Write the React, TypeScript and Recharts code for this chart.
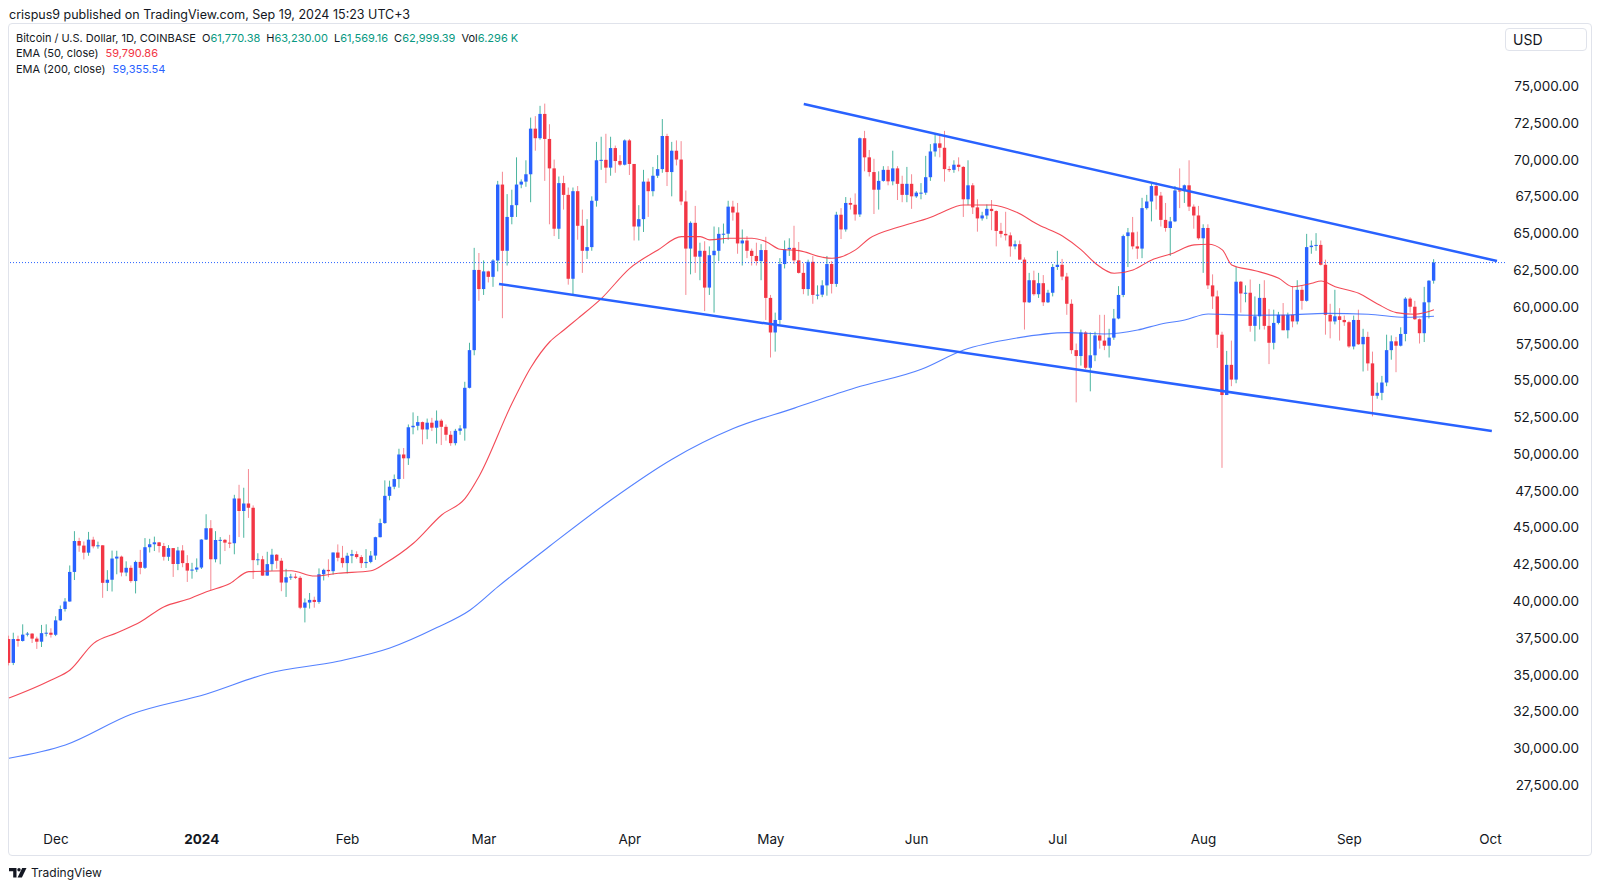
import React from 'react';
import { ComposedChart, Bar, Line, XAxis, YAxis, ReferenceLine } from 'recharts';

// ---------- DATA (prices in thousands USD, [open, high, low, close]) ----------
const nov2023 = [
  [37.42, 37.65, 35.63, 35.8], [35.8, 37.85, 35.65, 37.42], [37.42, 37.65, 36.9, 37.29], [37.29, 38.42, 37.25, 37.72],
  [37.72, 37.9, 37.6, 37.79], [37.79, 37.82, 37.15, 37.45], [37.45, 37.58, 36.75, 37.24], [37.24, 38.38, 36.88, 37.82],
  [37.82, 38.42, 37.6, 37.85], [37.85, 38.15, 37.52, 37.71],
];
const dec2023 = [
  [37.71, 38.97, 37.62, 38.69], [38.69, 39.7, 38.65, 39.46], [39.46, 40.2, 39.29, 39.97], [39.97, 42.42, 39.96, 41.98],
  [41.98, 44.75, 41.43, 44.08], [44.08, 44.3, 43.35, 43.77], [43.77, 44.05, 42.83, 43.29], [43.29, 44.7, 43.08, 44.17],
  [44.17, 44.37, 43.58, 43.72], [43.72, 44.04, 43.56, 43.79], [43.79, 43.8, 40.22, 41.24], [41.24, 42.1, 40.68, 41.45],
  [41.45, 43.43, 40.65, 42.89], [42.89, 43.42, 41.82, 43.02], [43.02, 43.09, 41.68, 41.94], [41.94, 42.7, 41.69, 42.26],
  [42.26, 42.42, 41.25, 41.36], [41.36, 42.75, 40.52, 42.66], [42.66, 43.48, 41.82, 42.26], [42.26, 44.28, 42.18, 43.66],
  [43.66, 44.23, 43.3, 43.86], [43.86, 44.38, 43.4, 43.99], [43.99, 44.02, 43.3, 43.74], [43.74, 43.95, 42.75, 43.01],
  [43.01, 43.8, 42.73, 43.6], [43.6, 43.6, 41.64, 42.52], [42.52, 43.68, 42.1, 43.44], [43.44, 43.8, 42.3, 42.58],
  [42.58, 43.12, 41.3, 42.07], [42.07, 42.6, 41.52, 42.14], [42.14, 42.9, 41.97, 42.28],
];
const jan2024 = [
  [42.28, 44.2, 42.18, 44.18], [44.18, 45.9, 44.15, 44.95], [44.95, 45.5, 40.75, 42.84], [42.84, 44.75, 42.63, 44.15],
  [44.15, 44.35, 42.5, 44.16], [44.16, 44.22, 43.4, 43.97], [43.97, 44.5, 43.6, 43.93], [43.93, 47.22, 43.18, 46.97],
  [46.97, 47.9, 44.35, 46.12], [46.12, 47.7, 44.3, 46.63], [46.63, 48.97, 45.65, 46.34], [46.34, 46.5, 41.5, 42.78],
  [42.78, 43.25, 42.44, 42.84], [42.84, 43.07, 41.72, 41.73], [41.73, 43.35, 41.72, 42.51], [42.51, 43.55, 42.05, 43.15],
  [43.15, 43.2, 42.2, 42.74], [42.74, 42.93, 40.67, 41.26], [41.26, 42.19, 40.28, 41.62], [41.62, 41.85, 41.44, 41.66],
  [41.66, 41.88, 41.5, 41.58], [41.58, 41.7, 39.45, 39.55], [39.55, 40.18, 38.55, 39.9], [39.9, 40.55, 39.49, 40.08],
  [40.08, 40.3, 39.55, 39.94], [39.94, 42.22, 39.82, 41.82], [41.82, 42.2, 41.4, 42.12], [42.12, 42.84, 41.62, 42.03],
  [42.03, 43.3, 41.8, 43.3], [43.3, 43.85, 42.7, 42.94], [42.94, 43.75, 42.28, 42.58],
];
const feb2024 = [
  [42.58, 43.28, 41.88, 43.08], [43.08, 43.48, 42.57, 43.19], [43.19, 43.38, 42.88, 42.99], [42.99, 43.12, 42.25, 42.58],
  [42.58, 43.53, 42.25, 42.66], [42.66, 43.4, 42.57, 43.09], [43.09, 44.37, 42.8, 44.34], [44.34, 45.6, 44.33, 45.3],
  [45.3, 48.2, 45.25, 47.15], [47.15, 48.18, 46.85, 47.77], [47.77, 48.6, 47.6, 48.29], [48.29, 50.35, 47.7, 49.96],
  [49.96, 50.4, 48.3, 49.7], [49.7, 52.0, 49.25, 51.81], [51.81, 52.82, 51.33, 51.91], [51.91, 52.58, 51.6, 52.16],
  [52.16, 52.2, 50.65, 51.66], [51.66, 52.4, 51.0, 52.12], [52.12, 52.45, 51.55, 51.78], [51.78, 52.95, 50.7, 52.26],
  [52.26, 52.38, 50.6, 51.84], [51.84, 52.0, 50.9, 51.3], [51.3, 51.55, 50.55, 50.73], [50.73, 51.7, 50.58, 51.57],
  [51.57, 51.95, 51.3, 51.73], [51.73, 54.9, 50.9, 54.49], [54.49, 57.55, 54.45, 57.05], [57.05, 64.0, 56.7, 62.5],
  [62.5, 63.65, 60.4, 61.2],
];
const mar2024 = [
  [61.2, 63.15, 60.8, 62.4], [62.4, 62.45, 61.65, 62.03], [62.03, 63.23, 61.35, 63.14], [63.14, 68.55, 62.4, 68.3],
  [68.3, 69.17, 59.22, 63.8], [63.8, 67.65, 62.8, 66.1], [66.1, 67.95, 65.6, 66.9], [66.9, 70.15, 66.1, 68.3],
  [68.3, 68.65, 68.05, 68.5], [68.5, 69.95, 68.15, 69.0], [69.0, 72.85, 67.1, 72.1], [72.1, 72.95, 70.6, 71.45],
  [71.45, 73.65, 71.35, 73.1], [73.1, 73.8, 68.55, 71.4], [71.4, 72.4, 65.6, 69.4], [69.4, 70.0, 64.8, 65.3],
  [65.3, 68.85, 64.6, 68.4], [68.4, 68.9, 66.6, 67.6], [67.6, 68.1, 61.5, 61.9], [61.9, 68.1, 60.8, 67.85],
  [67.85, 68.2, 64.55, 65.5], [65.5, 66.6, 62.3, 63.8], [63.8, 65.95, 63.25, 64.05], [64.05, 67.5, 63.8, 67.2],
  [67.2, 71.2, 66.8, 69.95], [69.95, 71.55, 69.3, 69.98], [69.98, 71.75, 68.4, 69.45], [69.45, 71.55, 68.9, 70.78],
  [70.78, 70.95, 69.1, 69.9], [69.9, 70.3, 69.55, 69.65], [69.65, 71.37, 69.6, 71.3],
];
const apr2024 = [
  [71.3, 71.4, 68.95, 69.7], [69.7, 69.7, 64.5, 65.45], [65.45, 66.9, 64.5, 65.95], [65.95, 69.3, 65.08, 68.5],
  [68.5, 68.72, 66.1, 67.85], [67.85, 69.5, 67.5, 68.9], [68.9, 70.3, 68.75, 69.35], [69.35, 72.75, 69.1, 71.6],
  [71.6, 71.75, 68.2, 69.15], [69.15, 71.2, 67.5, 70.6], [70.6, 71.3, 69.6, 70.0], [70.0, 71.25, 66.9, 67.15],
  [67.15, 67.9, 60.8, 63.95], [63.95, 65.8, 62.2, 65.7], [65.7, 66.85, 62.3, 63.4], [63.4, 64.35, 61.8, 63.8],
  [63.8, 64.45, 59.7, 61.3], [61.3, 64.1, 60.8, 63.5], [63.5, 65.45, 59.6, 63.8], [63.8, 65.4, 63.1, 64.95],
  [64.95, 65.65, 64.3, 64.96], [64.96, 67.2, 64.55, 66.8], [66.8, 67.2, 65.85, 66.4], [66.4, 67.05, 63.6, 64.3],
  [64.3, 65.25, 62.8, 64.5], [64.5, 64.8, 63.3, 63.8], [63.8, 63.95, 62.8, 63.45], [63.45, 64.35, 62.8, 63.1],
  [63.1, 64.25, 61.8, 63.85], [63.85, 64.75, 59.1, 60.6],
];
const may2024 = [
  [60.6, 60.8, 56.55, 58.25], [58.25, 59.6, 56.95, 59.1], [59.1, 63.3, 58.8, 62.9], [62.9, 64.5, 62.6, 63.9],
  [63.9, 64.65, 63.45, 64.0], [64.0, 65.5, 62.9, 63.15], [63.15, 64.4, 62.25, 62.3], [62.3, 62.95, 60.85, 61.2],
  [61.2, 63.2, 60.75, 63.05], [63.05, 63.45, 60.2, 60.8], [60.8, 61.45, 60.5, 60.82], [60.82, 61.8, 60.65, 61.45],
  [61.45, 63.45, 60.75, 62.9], [62.9, 63.1, 60.9, 61.55], [61.55, 66.45, 61.35, 66.25], [66.25, 66.7, 64.6, 65.25],
  [65.25, 67.45, 65.1, 67.05], [67.05, 67.4, 66.6, 66.93], [66.93, 67.7, 65.85, 66.27], [66.27, 71.5, 66.1, 71.45],
  [71.45, 71.95, 69.2, 70.15], [70.15, 70.65, 68.85, 69.15], [69.15, 70.05, 66.3, 67.95], [67.95, 69.2, 66.6, 68.55],
  [68.55, 69.55, 68.5, 69.3], [69.3, 69.55, 68.25, 68.52], [68.52, 70.6, 68.25, 69.4], [69.4, 69.55, 67.25, 68.35],
  [68.35, 68.9, 67.1, 67.6], [67.6, 69.5, 67.1, 68.35], [68.35, 69.0, 66.65, 67.5],
];
const jun2024 = [
  [67.5, 67.85, 67.4, 67.75], [67.75, 68.4, 67.3, 67.75], [67.75, 70.25, 67.6, 68.8], [68.8, 71.05, 68.55, 70.55],
  [70.55, 71.75, 70.2, 71.1], [71.1, 71.65, 70.15, 70.8], [70.8, 71.95, 68.5, 69.35], [69.35, 69.55, 69.15, 69.3],
  [69.3, 69.95, 69.1, 69.65], [69.65, 70.15, 69.2, 69.5], [69.5, 69.55, 66.1, 67.3], [67.3, 69.95, 66.9, 68.25],
  [68.25, 68.4, 66.3, 66.75], [66.75, 67.3, 65.1, 66.0], [66.0, 66.45, 65.85, 66.2], [66.2, 66.95, 65.95, 66.65],
  [66.65, 67.25, 65.2, 66.5], [66.5, 66.55, 64.1, 65.15], [65.15, 65.7, 64.7, 64.95], [64.95, 66.45, 64.5, 64.85],
  [64.85, 65.05, 63.4, 64.1], [64.1, 64.5, 63.9, 64.25], [64.25, 64.5, 63.2, 63.2], [63.2, 63.35, 58.45, 60.3],
  [60.3, 62.3, 60.25, 61.8], [61.8, 62.45, 60.75, 60.85], [60.85, 62.3, 60.6, 61.6], [61.6, 62.15, 60.05, 60.3],
  [60.3, 61.15, 60.25, 60.95], [60.95, 62.9, 60.7, 62.7],
];
const jul2024 = [
  [62.7, 63.8, 62.5, 62.85], [62.85, 63.25, 61.8, 62.05], [62.05, 62.3, 59.45, 60.2], [60.2, 60.5, 56.8, 57.05],
  [57.05, 57.5, 53.5, 56.65], [56.65, 58.45, 56.0, 58.25], [58.25, 58.35, 55.75, 55.85], [55.85, 58.25, 54.25, 56.7],
  [56.7, 58.3, 56.3, 58.05], [58.05, 59.45, 57.15, 57.7], [57.7, 59.45, 57.05, 57.35], [57.35, 58.5, 56.55, 57.9],
  [57.9, 59.85, 57.75, 59.2], [59.2, 61.4, 59.15, 60.8], [60.8, 64.9, 60.65, 64.8], [64.8, 65.35, 62.7, 65.05],
  [65.05, 66.1, 63.9, 64.1], [64.1, 65.1, 63.25, 63.95], [63.95, 67.4, 63.3, 66.7], [66.7, 67.6, 66.6, 67.15],
  [67.15, 68.35, 65.8, 68.2], [68.2, 68.45, 66.6, 67.55], [67.55, 67.8, 65.45, 65.9], [65.9, 67.05, 65.1, 65.35],
  [65.35, 66.1, 63.45, 65.8], [65.8, 68.2, 65.75, 67.9], [67.9, 69.4, 66.7, 67.85], [67.85, 68.3, 67.05, 68.25],
  [68.25, 69.95, 66.5, 66.8], [66.8, 66.95, 65.3, 66.2], [66.2, 66.85, 64.55, 64.65],
];
const aug2024 = [
  [64.65, 65.6, 62.3, 65.35], [65.35, 65.6, 61.2, 61.45], [61.45, 62.2, 59.85, 60.7], [60.7, 61.1, 57.2, 58.1],
  [58.1, 58.3, 49.05, 54.0], [54.0, 57.0, 54.0, 56.05], [56.05, 57.7, 54.6, 55.05], [55.05, 62.7, 54.8, 61.7],
  [61.7, 61.75, 59.6, 60.9], [60.9, 61.45, 60.3, 60.95], [60.95, 61.85, 58.3, 58.7], [58.7, 60.7, 57.65, 59.35],
  [59.35, 61.55, 58.45, 60.6], [60.6, 61.8, 58.45, 58.7], [58.7, 59.85, 56.1, 57.55], [57.55, 59.8, 57.1, 58.9],
  [58.9, 59.65, 58.8, 59.45], [59.45, 60.25, 58.4, 58.4], [58.4, 59.6, 57.85, 59.45], [59.45, 61.4, 58.6, 59.0],
  [59.0, 61.8, 58.8, 61.15], [61.15, 61.4, 59.8, 60.4], [60.4, 64.95, 60.35, 64.05], [64.05, 64.5, 63.6, 64.15],
  [64.15, 65.0, 63.8, 64.2], [64.2, 64.5, 62.8, 62.85], [62.85, 63.2, 58.1, 59.45], [59.45, 60.2, 57.85, 59.0],
  [59.0, 61.15, 58.8, 59.35], [59.35, 59.9, 57.7, 59.1], [59.1, 59.4, 58.7, 58.95],
];
const sep2024 = [
  [58.95, 59.05, 57.2, 57.3], [57.3, 59.4, 57.1, 59.1], [59.1, 59.8, 57.4, 57.45], [57.45, 58.5, 55.6, 57.95],
  [57.95, 58.3, 55.65, 56.15], [56.15, 56.95, 52.55, 53.95], [53.95, 54.85, 53.75, 54.15], [54.15, 55.3, 53.65, 54.85],
  [54.85, 58.1, 54.6, 57.05], [57.05, 58.05, 56.4, 57.65], [57.65, 57.95, 55.55, 57.35], [57.35, 58.6, 57.3, 58.15],
  [58.15, 60.65, 57.65, 60.55], [60.55, 60.65, 59.6, 60.0], [60.0, 60.4, 59.1, 59.15], [59.15, 59.2, 57.5, 58.2],
  [58.2, 61.35, 57.6, 60.3], [60.3, 61.8, 59.2, 61.77], [61.77, 63.23, 61.56916, 62.99939],
];

// EMA readings [day index (0 = 21 Nov 2023), value in thousands]
const ema50Points = [
  [0, 33.41], [9, 34.64], [13, 35.32], [18, 37.13], [23, 37.85], [28, 38.6], [33, 39.62], [38, 40.12], [42, 40.64],
  [47, 41.2], [51, 42.0], [60, 42.06], [65, 41.7], [70, 41.89], [77, 42.06], [80, 42.57], [86, 43.93], [92, 45.85],
  [97, 46.98], [100, 48.5], [107, 53.46], [111, 55.89], [115, 57.62], [118, 58.42], [121, 59.21], [126, 60.57],
  [132, 62.61], [138, 63.86], [143, 64.76], [147, 64.76], [149, 64.54], [153, 64.65], [158, 64.65], [161, 64.42],
  [164, 63.9], [168, 63.81], [173, 63.36], [175, 63.29], [180, 63.86], [183, 64.65], [189, 65.4], [196, 66.08],
  [198, 66.35], [203, 66.91], [209, 66.91], [214, 66.46], [219, 65.55], [224, 64.81], [228, 63.86], [231, 62.95],
  [235, 62.27], [239, 62.5], [243, 63.18], [247, 63.58], [252, 64.2], [255, 64.24], [258, 63.86], [260, 62.84],
  [265, 62.45], [270, 61.93], [273, 61.36], [277, 61.59], [279, 61.75], [282, 61.36], [287, 60.91], [291, 60.19],
  [295, 59.6], [299, 59.49], [303, 59.79086],
];
const ema200Points = [
  [0, 29.32], [12, 30.22], [26, 32.31], [42, 33.69], [55, 35.08], [70, 35.91], [81, 36.81], [91, 38.2], [98, 39.38],
  [104, 40.98], [115, 43.74], [128, 46.87], [141, 49.64], [154, 51.72], [167, 53.11], [180, 54.49], [194, 55.75],
  [203, 57.06], [214, 57.86], [225, 58.24], [233, 58.15], [240, 58.42], [245, 58.83], [250, 59.1], [255, 59.51],
  [264, 59.42], [272, 59.44], [280, 59.55], [289, 59.49], [297, 59.28], [303, 59.35554],
];

// Trend lines drawn on the chart: [day index, price in thousands]
const upperTrend = [[169, 73.78], [316.4, 63.11]];
const lowerTrend = [[104.2, 61.55], [315.3, 51.56]];

const lastClose = 62999.39;
const monthTicks = [10, 41, 72, 101, 132, 162, 193, 223, 254, 285, 315];
const monthLabels = ['Dec', '2024', 'Feb', 'Mar', 'Apr', 'May', 'Jun', 'Jul', 'Aug', 'Sep', 'Oct'];
const priceTicks = [27500, 30000, 32500, 35000, 37500, 40000, 42500, 45000, 47500, 50000, 52500, 55000, 57500, 60000, 62500, 65000, 67500, 70000, 72500, 75000];

// ---------- BUILD TABLES ----------
const allDays = [...nov2023, ...dec2023, ...jan2024, ...feb2024, ...mar2024, ...apr2024, ...may2024, ...jun2024, ...jul2024, ...aug2024, ...sep2024];
const candles = allDays.map(([o, h, l, c], i) => ({
  t: i, o: o * 1000, h: h * 1000, l: l * 1000, c: c * 1000, range: [l * 1000, h * 1000],
}));
const ema50Data = ema50Points.map(([t, v]) => ({ t, v: v * 1000 }));
const ema200Data = ema200Points.map(([t, v]) => ({ t, v: v * 1000 }));

// ---------- STYLE ----------
const FONT = 'Inter, "Noto Sans", "DejaVu Sans", sans-serif';
const TEXT = '#131722';
const GREEN = '#089981';
const BULL_BODY = '#2962FF';
const BULL_WICK = '#4CB5A0';
const BEAR_BODY = '#F23645';
const BEAR_WICK = '#F58A93';
const EMA50_COLOR = '#F23645';
const EMA200_COLOR = '#2962FF';
const BODY_W = 3.4;

const Candle = (props: any) => {
  const { x, y, width, height, payload } = props;
  if (!payload || x == null) return null;
  const { o, h, l, c } = payload;
  const top = Math.min(y, y + height);
  const bot = Math.max(y, y + height);
  const span = h - l;
  const py = (v: number) => (span === 0 ? top : top + ((h - v) / span) * (bot - top));
  const cx = x + width / 2;
  const up = c >= o;
  const bTop = py(Math.max(o, c));
  const bBot = py(Math.min(o, c));
  const bh = Math.max(1, bBot - bTop);
  return (
    <g>
      <line x1={cx} x2={cx} y1={top} y2={bot} stroke={up ? BULL_WICK : BEAR_WICK} strokeWidth={1} />
      <rect x={cx - BODY_W / 2} y={bTop} width={BODY_W} height={bh} fill={up ? BULL_BODY : BEAR_BODY} />
    </g>
  );
};

const XTick = (props: any) => {
  const { x, payload } = props;
  const idx = monthTicks.indexOf(payload.value);
  const label = monthLabels[idx] ?? '';
  const bold = label === '2024';
  return (
    <text x={x} y={839} textAnchor="middle" dominantBaseline="central" fontSize={13.5} fontFamily={FONT}
      fill={TEXT} fontWeight={bold ? 700 : 400}>{label}</text>
  );
};

const YTick = (props: any) => {
  const { y, payload } = props;
  const s = payload.value.toLocaleString('en-US', { minimumFractionDigits: 2, maximumFractionDigits: 2 });
  return (
    <text x={1579} y={y} textAnchor="end" dominantBaseline="central" fontSize={13.5} fontFamily={FONT} fill={TEXT}>{s}</text>
  );
};

const Val = ({ k, v, color }: { k: string; v: string; color: string }) => (
  <span style={{ marginLeft: 6 }}>
    <span style={{ color: TEXT }}>{k}</span>
    <span style={{ color }}>{v}</span>
  </span>
);

export default function App() {
  return (
    <div style={{ position: 'absolute', left: 0, top: 0, width: 1600, height: 887, background: '#fff', fontFamily: FONT, overflow: 'hidden' }}>
      <div style={{ position: 'absolute', left: 8, top: 23, width: 1584, height: 833, border: '1px solid #E0E3EB', borderRadius: 4, boxSizing: 'border-box' }} />
      <div style={{ position: 'absolute', left: 0, top: 0 }}>
        <ComposedChart width={1600} height={887} data={candles} margin={{ top: 24, left: 8, right: 0, bottom: 32 }}>
          <XAxis dataKey="t" type="number" domain={[-0.2, 318.1]} allowDataOverflow ticks={monthTicks}
            axisLine={false} tickLine={false} height={47} tick={<XTick />} interval={0} />
          <YAxis orientation="right" type="number" domain={[25940, 79210]} allowDataOverflow ticks={priceTicks}
            axisLine={false} tickLine={false} width={95} tick={<YTick />} interval={0} />
          <Line data={ema200Data} dataKey="v" type="monotone" stroke={EMA200_COLOR} strokeOpacity={0.8} strokeWidth={1.1}
            dot={false} activeDot={false} isAnimationActive={false} />
          <Line data={ema50Data} dataKey="v" type="monotone" stroke={EMA50_COLOR} strokeOpacity={0.9} strokeWidth={1.1}
            dot={false} activeDot={false} isAnimationActive={false} />
          <Bar dataKey="range" barSize={4} shape={<Candle />} isAnimationActive={false} />
          <ReferenceLine y={lastClose} stroke="#2962FF" strokeDasharray="1 2" strokeWidth={1} />
          <ReferenceLine segment={[{ x: upperTrend[0][0], y: upperTrend[0][1] * 1000 }, { x: upperTrend[1][0], y: upperTrend[1][1] * 1000 }]}
            stroke="#2962FF" strokeWidth={2.5} />
          <ReferenceLine segment={[{ x: lowerTrend[0][0], y: lowerTrend[0][1] * 1000 }, { x: lowerTrend[1][0], y: lowerTrend[1][1] * 1000 }]}
            stroke="#2962FF" strokeWidth={2.5} />
        </ComposedChart>
      </div>

      <div style={{ position: 'absolute', left: 9, top: 7, fontSize: 12.5, lineHeight: '16px', color: TEXT, whiteSpace: 'nowrap' }}>
        crispus9 published on TradingView.com, Sep 19, 2024 15:23 UTC+3
      </div>
      <div style={{ position: 'absolute', left: 16, top: 31, fontSize: 11, lineHeight: '15.3px', color: TEXT, whiteSpace: 'nowrap' }}>
        <div>
          <span>Bitcoin / U.S. Dollar, 1D, COINBASE</span>
          <Val k="O" v="61,770.38" color={GREEN} />
          <Val k="H" v="63,230.00" color={GREEN} />
          <Val k="L" v="61,569.16" color={GREEN} />
          <Val k="C" v="62,999.39" color={GREEN} />
          <Val k="Vol" v="6.296 K" color={GREEN} />
        </div>
        <div>EMA (50, close) <span style={{ color: EMA50_COLOR, marginLeft: 4 }}>59,790.86</span></div>
        <div>EMA (200, close) <span style={{ color: EMA200_COLOR, marginLeft: 4 }}>59,355.54</span></div>
      </div>

      <div style={{ position: 'absolute', left: 1505, top: 28, width: 82, height: 23, border: '1px solid #E0E3EB', borderRadius: 4, boxSizing: 'border-box', fontSize: 14, lineHeight: '21px', paddingLeft: 7, color: TEXT }}>
        USD
      </div>

      <div style={{ position: 'absolute', left: 9, top: 865, display: 'flex', alignItems: 'center', fontSize: 12, color: TEXT }}>
        <svg width={18} height={10} viewBox="0 0 18 10" style={{ marginRight: 4 }}>
          <path d="M0 0h7.5v9.5H4.2V3.2H0z" fill={TEXT} />
          <circle cx={10} cy={1.7} r={1.7} fill={TEXT} />
          <path d="M13.2 0h4.3l-4.6 9.5H8.6z" fill={TEXT} />
        </svg>
        <span>TradingView</span>
      </div>
    </div>
  );
}
